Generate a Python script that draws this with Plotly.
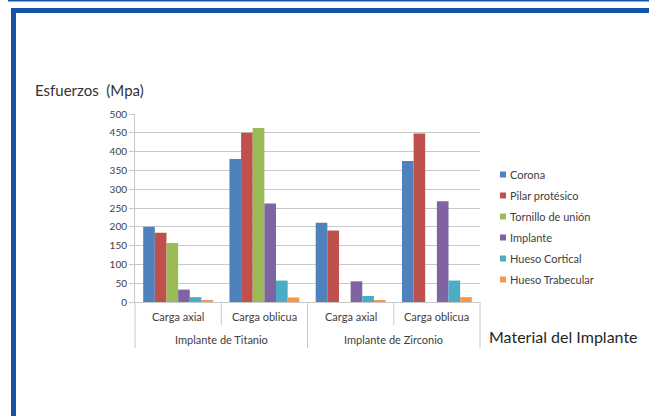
import plotly.graph_objects as go

# Outer grouping (implant material) and inner grouping (load type)
materiales = ["Implante de Titanio", "Implante de Titanio",
              "Implante de Zirconio", "Implante de Zirconio"]
cargas = ["Carga axial", "Carga oblicua", "Carga axial", "Carga oblicua"]
grupos = ["Implante de Titanio", "Implante de Zirconio"]

# Stress values (MPa) per component
corona = [200, 380, 211, 375]
pilar = [184, 450, 190, 448]
tornillo = [157, 463, 0, 0]
implante = [33, 262, 55, 268]
hueso_cortical = [13, 57, 16, 57]
hueso_trabecular = [3, 12, 3, 13]

series = [
    ("Corona", corona, "#4F81BD"),
    ("Pilar protésico", pilar, "#C0504D"),
    ("Tornillo de unión", tornillo, "#9BBB59"),
    ("Implante", implante, "#8064A2"),
    ("Hueso Cortical", hueso_cortical, "#4BACC6"),
    ("Hueso Trabecular", hueso_trabecular, "#F79646"),
]

y_ticks = list(range(0, 501, 50))

FONT = "Lato"
TXT = "#404040"
AXIS = "#C8C8C8"
W, H = 649, 416
L, R, T, B = 135, 480, 114, 302  # plot area in pixels

fig = go.Figure()
for name, vals, color in series:
    fig.add_trace(go.Bar(
        x=[materiales, cargas], y=vals, name=name,
        marker=dict(color=color, line=dict(width=0)),
        showlegend=False,
    ))


def px_x(px):
    return (px - L) / (R - L)


def px_y(py):
    return (B - py) / (B - T)


def vline(px, y_bottom):
    return dict(type="line", xref="paper", yref="paper",
                x0=px_x(px), x1=px_x(px), y0=px_y(B), y1=px_y(y_bottom),
                line=dict(color=AXIS, width=1))


frame = "#1553A6"
shapes = [
    # blue page frame
    dict(type="rect", xref="paper", yref="paper",
         x0=px_x(11), x1=px_x(700), y0=px_y(8), y1=px_y(13),
         fillcolor=frame, line=dict(width=0), layer="above"),
    dict(type="rect", xref="paper", yref="paper",
         x0=px_x(11), x1=px_x(16), y0=px_y(8), y1=px_y(430),
         fillcolor=frame, line=dict(width=0), layer="above"),
    dict(type="rect", xref="paper", yref="paper",
         x0=px_x(8), x1=px_x(700), y0=px_y(-2), y1=px_y(1.5),
         fillcolor=frame, line=dict(width=0), layer="above"),
]

# category-axis separators: short between load types, long between materials
n_cat = len(cargas)
cat_w = (R - L) / n_cat
for i in range(n_cat + 1):
    long_sep = (i % 2 == 0)
    shapes.append(vline(L + i * cat_w, 348 if long_sep else 325))

annotations = [
    dict(text="Esfuerzos  (Mpa)", xref="paper", yref="paper",
         x=px_x(33), y=px_y(90), xanchor="left", yanchor="middle",
         showarrow=False, font=dict(family=FONT, size=15, color="#333333")),
    dict(text="Material del Implante", xref="paper", yref="paper",
         x=px_x(487), y=px_y(336), xanchor="left", yanchor="middle",
         showarrow=False, font=dict(family=FONT, size=16, color="#262626")),
]

# inner and outer category labels
for i, c in enumerate(cargas):
    annotations.append(dict(
        text=c, xref="paper", yref="paper",
        x=px_x(L + (i + 0.5) * cat_w), y=px_y(316), xanchor="center",
        yanchor="middle", showarrow=False,
        font=dict(family=FONT, size=11, color=TXT)))
for j, g in enumerate(grupos):
    annotations.append(dict(
        text=g, xref="paper", yref="paper",
        x=px_x(L + (2 * j + 1) * cat_w), y=px_y(339), xanchor="center",
        yanchor="middle", showarrow=False,
        font=dict(family=FONT, size=11, color=TXT)))

# legend: small square swatch + label per series
for k, (name, vals, color) in enumerate(series):
    cy = 174.5 + k * 21
    shapes.append(dict(type="rect", xref="paper", yref="paper",
                       x0=px_x(500), x1=px_x(506),
                       y0=px_y(cy - 3), y1=px_y(cy + 3),
                       fillcolor=color, line=dict(width=0)))
    annotations.append(dict(
        text=name, xref="paper", yref="paper",
        x=px_x(508), y=px_y(cy), xanchor="left", yanchor="middle",
        showarrow=False, font=dict(family=FONT, size=11, color=TXT)))

fig.update_layout(
    width=W, height=H,
    margin=dict(l=L, r=W - R, t=T, b=H - B),
    paper_bgcolor="white", plot_bgcolor="white",
    barmode="group", bargap=0.19, bargroupgap=0,
    font=dict(family=FONT, size=11, color=TXT),
    showlegend=False,
    shapes=shapes, annotations=annotations,
    xaxis=dict(type="multicategory", showline=True, linecolor=AXIS,
               ticks="", showticklabels=False, showdividers=False,
               showgrid=False),
    yaxis=dict(range=[0, 500], tickvals=y_ticks, showgrid=True,
               gridcolor=AXIS, gridwidth=1, showline=True,
               linecolor=AXIS, ticks="outside", ticklen=5,
               tickcolor=AXIS, zeroline=False,
               tickfont=dict(family=FONT, size=10, color=TXT)),
)

fig.write_html("out.html")
